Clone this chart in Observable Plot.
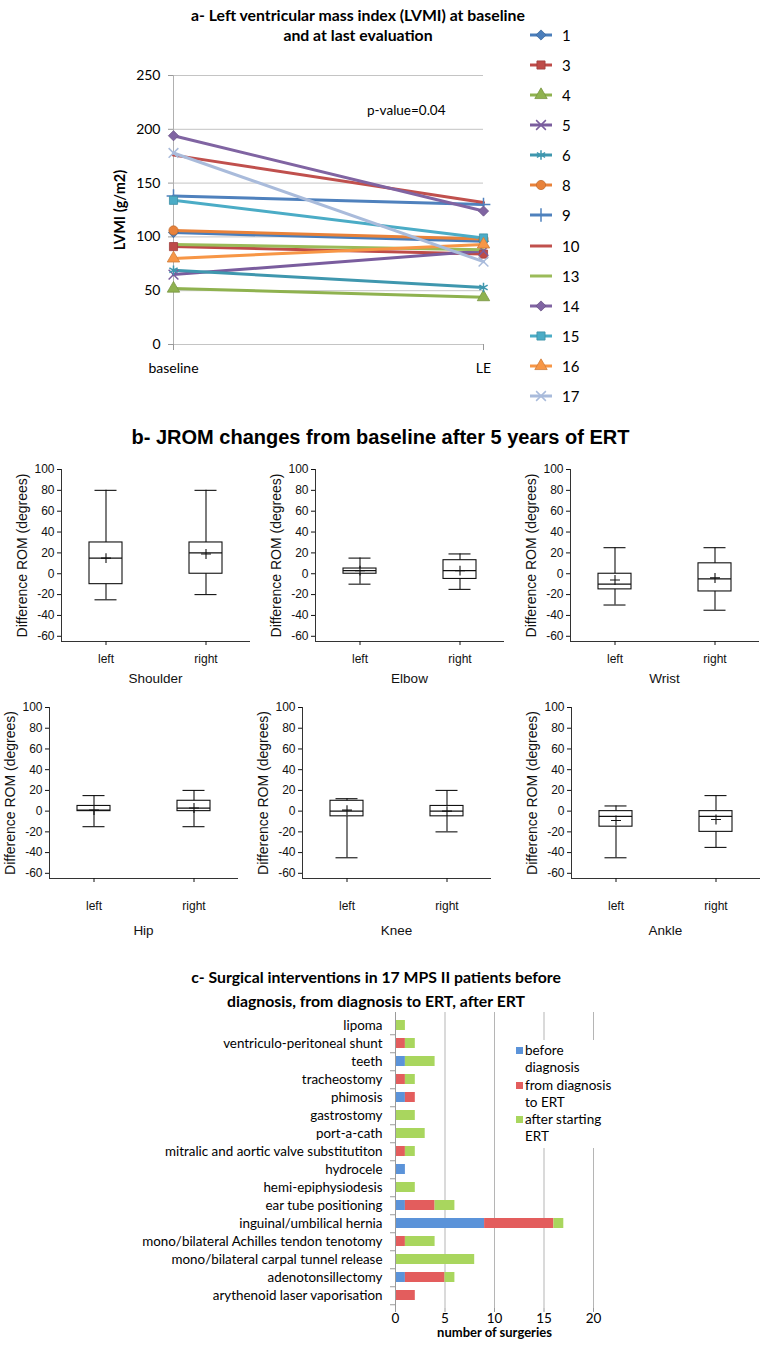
<!DOCTYPE html>
<html><head><meta charset="utf-8">
<script src="https://cdn.jsdelivr.net/npm/d3@7"></script>
<script src="https://cdn.jsdelivr.net/npm/@observablehq/plot@0.6"></script>
<style>
body{margin:0;background:#fff;}
#root{position:relative;width:761px;height:1353px;overflow:hidden;background:#fff;}
.ttl{position:absolute;left:0;text-align:center;font-weight:bold;color:#000;white-space:nowrap;}
</style></head><body><div id="root"></div>
<script>
// ---------- Panel a data ----------
const lvmiPatients = ["1","3","4","5","6","8","9","10","13","14","15","16","17"];
const lvmiTimes = ["baseline","LE"];
const lvmiBaseline = [104,91,52,65,69,106,138,176,93,194,134,80,178];
const lvmiLE = [96,84,44,87,53,98,130,132,88,124,99,93,77];
const lvmiColors = ["#4a7ebb","#be4b48","#8fb24f","#7a5d9e","#3f97ae","#e8823a","#4f81bd","#c0504d","#9bbb59","#8064a2","#4bacc6","#f79646","#a9bbdb"];
const lvmiSymbols = ["diamond2","square","triangle","times","asterisk","circle","plus",null,null,"diamond2","square","triangle","times"];
const lvmiTicks = [0,50,100,150,200,250];

// ---------- Panel b data ----------
const boxJoints = ["Shoulder","Shoulder","Elbow","Elbow","Wrist","Wrist","Hip","Hip","Knee","Knee","Ankle","Ankle"];
const boxSides = ["left","right","left","right","left","right","left","right","left","right","left","right"];
const whiskerLow = [-25,-20,-10,-15,-30,-35,-15,-15,-45,-20,-45,-35];
const quartile1 = [-10,0,0,-5,-15,-17,0,0,-5,-5,-15,-20];
const medians = [15,20,3,3,-10,-5,1,3,0,0,-5,-5];
const quartile3 = [30,30,5,13,0,10,5,10,10,5,0,0];
const whiskerHigh = [80,80,15,19,25,25,15,20,12,20,5,15];
const means = [15,19,3,3,-6,-4,1,3,1,0,-9,-8];
const romTicks = [-60,-40,-20,0,20,40,60,80,100];

// ---------- Panel c data ----------
const surgeryCategories = ["lipoma","ventriculo-peritoneal shunt","teeth","tracheostomy","phimosis","gastrostomy","port-a-cath","mitralic and aortic valve substitutiton","hydrocele","hemi-epiphysiodesis","ear tube positioning","inguinal/umbilical hernia","mono/bilateral Achilles tendon tenotomy","mono/bilateral carpal tunnel release","adenotonsillectomy","arythenoid laser vaporisation"];
const beforeDiagnosis = [0,0,1,0,1,0,0,0,1,0,1,9,0,0,1,0];
const diagnosisToERT  = [0,1,0,1,1,0,0,1,0,0,3,7,1,0,4,2];
const afterERT        = [1,1,3,1,0,2,3,1,0,2,2,1,3,8,1,0];
const phases = ["before diagnosis","from diagnosis to ERT","after starting ERT"];
const phaseLegend = [["before","diagnosis"],["from diagnosis","to ERT"],["after starting","ERT"]];
const phaseColors = ["#5b93d9","#e35d5d","#a9d65e"];
const surgeryTicks = [0,5,10,15,20];

const root = document.getElementById("root");
function place(el, left, top){ el.style.position="absolute"; el.style.left=left+"px"; el.style.top=top+"px"; root.appendChild(el); return el; }
function addTitle(lines, top, width, font, size, lh){
  const d=document.createElement("div"); d.className="ttl"; d.style.top=top+"px"; d.style.width=width+"px"; d.style.fontFamily=font; d.style.fontSize=size+"px"; d.style.lineHeight=lh+"px";
  d.innerHTML=lines.join("<br>"); root.appendChild(d); return d;
}
const symMap = {diamond2:d3.symbolDiamond2, square:d3.symbolSquare, triangle:d3.symbolTriangle, times:d3.symbolTimes, asterisk:d3.symbolAsterisk, circle:d3.symbolCircle, plus:d3.symbolPlus};
const strokeSyms = new Set(["times","asterisk","plus"]);

// ---------- Panel a ----------
addTitle(["a- Left ventricular mass index (LVMI) at baseline","and at last evaluation"], 5, 716, "Lato, 'Open Sans', sans-serif", 15.8, 20);

const rowsA = lvmiPatients.flatMap((p,i)=>[{id:p,time:"baseline",value:lvmiBaseline[i]},{id:p,time:"LE",value:lvmiLE[i]}]);
const dotMarks = [];
lvmiPatients.forEach((p,i)=>{
  const s = lvmiSymbols[i]; if(!s) return;
  const data = rowsA.filter(r=>r.id===p);
  if(strokeSyms.has(s)) dotMarks.push(Plot.dot(data,{x:"time",y:"value",symbol:s,r:4.5,stroke:lvmiColors[i],strokeWidth:1.5}));
  else dotMarks.push(Plot.dot(data,{x:"time",y:"value",symbol:s,r:4.6,fill:lvmiColors[i],stroke:d3.color(lvmiColors[i]).darker(0.5).formatHex(),strokeWidth:0.8}));
});
const plotA = Plot.plot({
  width:520, height:390, marginTop:75, marginBottom:46, marginLeft:173, marginRight:37,
  style:{fontFamily:"Lato, sans-serif", fontSize:"14px", background:"transparent", color:"#000"},
  x:{type:"point", domain:lvmiTimes, padding:0},
  y:{domain:[0,250]},
  color:{domain:lvmiPatients, range:lvmiColors},
  marks:[
    Plot.gridY(lvmiTicks,{stroke:"#c4c4c4", strokeOpacity:1}),
    Plot.ruleX(["baseline"],{stroke:"#b0b0b0"}),
    Plot.axisY(lvmiTicks,{tickSize:5, tickPadding:8, stroke:"#999", fontSize:14, label:"LVMI (g/m2)", labelAnchor:"center", labelOffset:59, labelArrow:"none"}),
    Plot.axisX({tickSize:6, tickPadding:13, stroke:"#999", fontSize:14, label:null}),
    Plot.line(rowsA,{x:"time", y:"value", z:"id", stroke:"id", strokeWidth:3}),
    ...dotMarks,
    Plot.text(["p-value=0.04"],{text:d=>d, frameAnchor:"top-right", dx:-38, dy:30, fontSize:13.5})
  ]
});
d3.select(plotA).selectAll('[aria-label="y-axis label"] text').style("font-weight","bold").style("font-size","14.5px");
place(plotA,0,0);

// legend a
lvmiPatients.forEach((p,i)=>{
  const y = 35 + i*30.08;
  const d=document.createElement("div");
  d.style.cssText="position:absolute;height:20px;display:flex;align-items:center;font:15px Lato, sans-serif;color:#000;";
  d.style.left="528px"; d.style.top=(y-10)+"px";
  const svg=d3.create("svg").attr("width",26).attr("height",20);
  svg.append("line").attr("x1",2).attr("x2",24).attr("y1",10).attr("y2",10).attr("stroke",lvmiColors[i]).attr("stroke-width",3);
  const s=lvmiSymbols[i];
  if(s){
    const path=d3.symbol(symMap[s], (strokeSyms.has(s)?4.5:4.6)**2*Math.PI)();
    const g=svg.append("path").attr("d",path).attr("transform","translate(13,10)");
    if(strokeSyms.has(s)) g.attr("fill","none").attr("stroke",lvmiColors[i]).attr("stroke-width",1.5);
    else g.attr("fill",lvmiColors[i]).attr("stroke",d3.color(lvmiColors[i]).darker(0.5).formatHex()).attr("stroke-width",0.8);
  }
  d.appendChild(svg.node());
  const t=document.createElement("span"); t.textContent=p; t.style.marginLeft="8px"; d.appendChild(t);
  root.appendChild(d);
});

// ---------- Panel b ----------
addTitle(["b- JROM changes from baseline after 5 years of ERT"], 425, 761, "'Liberation Sans', Arial, sans-serif", 20, 24);

const boxRows = boxJoints.map((j,i)=>({joint:j, side:boxSides[i], lo:whiskerLow[i], q1:quartile1[i], med:medians[i], q3:quartile3[i], hi:whiskerHigh[i], mean:means[i]}));
const panelCfg = [
  {joint:"Shoulder", left:0,   top:440, ml:61, w:254, h:250, mb:49, tp:9,  lo:41},
  {joint:"Elbow",    left:254, top:440, ml:61, w:254, h:250, mb:49, tp:9,  lo:41},
  {joint:"Wrist",    left:509, top:440, ml:61, w:252, h:250, mb:49, tp:9,  lo:41},
  {joint:"Hip",      left:0,   top:678, ml:49, w:242, h:268, mb:68, tp:19, lo:56},
  {joint:"Knee",     left:253, top:678, ml:49, w:242, h:268, mb:68, tp:19, lo:56},
  {joint:"Ankle",    left:509, top:678, ml:62, w:252, h:268, mb:68, tp:19, lo:56}
];
panelCfg.forEach(c=>{
  const rows = boxRows.filter(r=>r.joint===c.joint);
  const p = Plot.plot({
    width:c.w, height:c.h, marginTop:29, marginBottom:c.mb, marginLeft:c.ml, marginRight:c.w-c.ml-188,
    style:{fontFamily:"'Liberation Sans', Arial, sans-serif", fontSize:"12px", background:"transparent", color:"#111"},
    x:{type:"band", domain:["left","right"], paddingInner:0.67, paddingOuter:0.275, align:0.5},
    y:{domain:[-65,100]},
    marks:[
      Plot.frame({anchor:"left", stroke:"#333"}),
      Plot.frame({anchor:"bottom", stroke:"#333"}),
      Plot.ruleX(rows,{x:"side", y1:"lo", y2:"hi", stroke:"#111", strokeWidth:1.1}),
      Plot.tickY(rows,{x:"side", y:"lo", inset:5.5, stroke:"#111", strokeWidth:1.1}),
      Plot.tickY(rows,{x:"side", y:"hi", inset:5.5, stroke:"#111", strokeWidth:1.1}),
      Plot.barY(rows,{x:"side", y1:"q1", y2:"q3", fill:"#fff", stroke:"#111", strokeWidth:1.1}),
      Plot.tickY(rows,{x:"side", y:"med", stroke:"#111", strokeWidth:1.3}),
      Plot.dot(rows,{x:"side", y:"mean", symbol:"plus", r:3.3, stroke:"#111", strokeWidth:1.1}),
      Plot.axisY(romTicks,{tickSize:4, tickPadding:3, tickFormat:d=>String(d), fontSize:12, label:"Difference ROM (degrees)", labelAnchor:"center", labelOffset:44, labelArrow:"none"}),
      Plot.axisX({tickSize:4, tickPadding:c.tp, fontSize:12, label:c.joint, labelAnchor:"center", labelOffset:c.lo, labelArrow:"none"})
    ]
  });
  d3.select(p).selectAll('[aria-label="y-axis label"] text').style("font-size","14px");
  d3.select(p).selectAll('[aria-label="x-axis label"] text').style("font-size","13.5px");
  place(p,c.left,c.top);
});

// ---------- Panel c ----------
addTitle(["c- Surgical interventions in 17 MPS II patients before","diagnosis, from diagnosis to ERT, after ERT"], 965, 752, "Lato, 'Open Sans', sans-serif", 15.8, 24);

const rowsC = surgeryCategories.flatMap((cat,i)=>[
  {cat, phase:phases[0], n:beforeDiagnosis[i]},
  {cat, phase:phases[1], n:diagnosisToERT[i]},
  {cat, phase:phases[2], n:afterERT[i]}
]);
const plotC = Plot.plot({
  width:761, height:348, marginTop:7, marginBottom:45, marginLeft:395, marginRight:168,
  style:{fontFamily:"Lato, sans-serif", fontSize:"13px", background:"transparent", color:"#000"},
  x:{domain:[0,20]},
  y:{domain:surgeryCategories, paddingInner:0.45, paddingOuter:0.225, align:0.5},
  color:{domain:phases, range:phaseColors},
  marks:[
    Plot.gridX([5,10,15,20],{stroke:"#b5b5b5", strokeOpacity:1}),
    Plot.barX(rowsC,{y:"cat", x:"n", fill:"phase"}),
    Plot.ruleX([0],{stroke:"#9a9a9a"}),
    Plot.axisY({tickSize:0, tickPadding:13, fontSize:13.4, label:null}),
    Plot.axisY({text:null, tickSize:5, dy:9.25, stroke:"#9a9a9a", label:null}),
    Plot.axisX(surgeryTicks,{tickSize:4, tickPadding:1, stroke:"#9a9a9a", fontSize:13.5, label:"number of surgeries", labelAnchor:"center", labelOffset:28, labelArrow:"none"})
  ]
});
d3.select(plotC).selectAll('[aria-label="x-axis label"] text').style("font-weight","bold").style("font-size","13px");
place(plotC,0,1005);

// legend c
const legC=document.createElement("div");
legC.style.cssText="position:absolute;left:510px;top:1040px;width:104px;background:#fff;font:13.5px Lato, sans-serif;color:#000;line-height:17.3px;padding:2px 0;white-space:nowrap;";
phaseLegend.forEach((lines,i)=>{
  const item=document.createElement("div"); item.style.position="relative"; item.style.paddingLeft="15px";
  const sw=document.createElement("span"); sw.style.cssText="position:absolute;left:6px;top:5px;width:7px;height:7px;background:"+phaseColors[i]+";";
  item.appendChild(sw);
  const tx=document.createElement("span"); tx.innerHTML=lines.join("<br>"); item.appendChild(tx);
  legC.appendChild(item);
});
root.appendChild(legC);
</script></body></html>
